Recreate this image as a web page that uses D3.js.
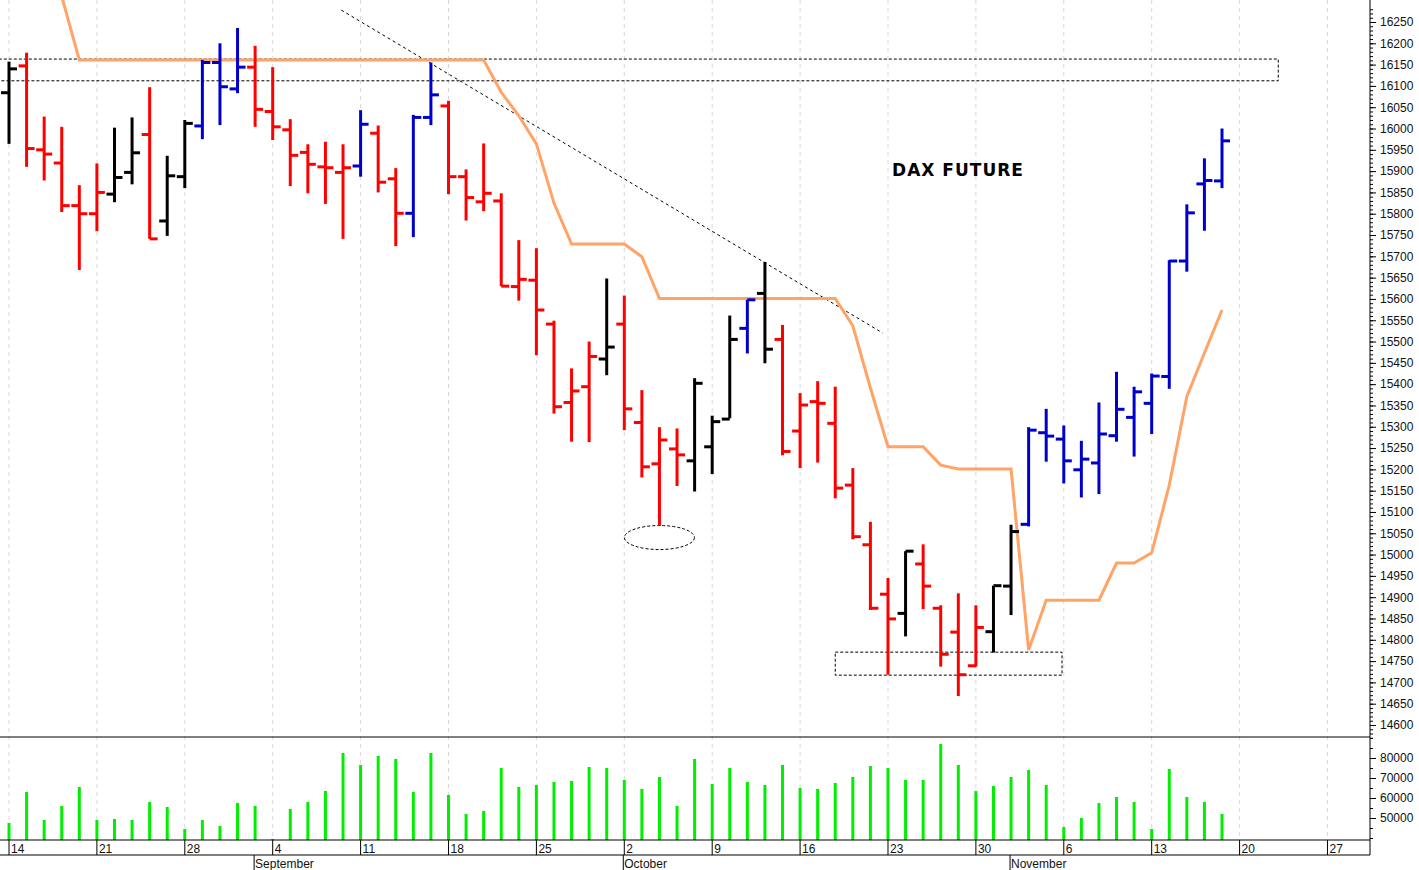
<!DOCTYPE html>
<html>
<head>
<meta charset="utf-8">
<script src="https://cdn.jsdelivr.net/npm/d3@7"></script>
<style>
  body { margin: 0; background: #fff; }
  svg { display: block; font-family: "Liberation Sans", Arial, sans-serif; }
</style>
</head>
<body>
<svg id="chart" width="1419" height="870"></svg>
<script>
// daily OHLC, Aug 14 - Nov 17 (trading day index 0..69)
const opens  = [16084,16147,15950,15919,15819,15800,15846,15897,15986,15783,15887,16006,16155,16093,16144,16040,15997,15944,15910,15897,
                15912,15989,15882,15801,16026,16053,15887,15828,15830,15629,15644,15541,15357,15394,15459,15541,15310,15213,15248,15220,
                15253,15318,15531,15613,15505,15290,15359,15308,15163,15023,14907,14862,14978,14874,14818,14739,14819,14926,15071,15286,
                15271,15199,15215,15279,15322,15355,15418,15689,15870,15877];
const highs  = [16157,16178,16028,16004,15867,15918,16002,16026,16097,15936,16020,16161,16200,16236,16194,16144,16022,15963,15969,15963,
                16043,16007,15907,16032,16155,16065,15904,15965,15848,15738,15719,15549,15437,15500,15648,15608,15386,15299,15296,15414,
                15326,15561,15598,15687,15539,15379,15407,15394,15203,15077,14945,15008,15024,14881,14909,14881,14927,15070,15299,15342,
                15303,15267,15357,15429,15394,15425,15691,15822,15930,16000];
const lows   = [15964,15910,15878,15804,15668,15759,15827,15869,15741,15748,15860,15975,16008,16083,16004,15973,15865,15848,15823,15741,
                15887,15850,15724,15745,16008,15846,15784,15806,15630,15596,15468,15331,15265,15264,15421,15292,15181,15067,15161,15148,
                15189,15320,15472,15449,15233,15203,15216,15132,15036,14870,14718,14808,14872,14737,14668,14737,14770,14858,15066,15218,
                15167,15134,15142,15265,15230,15283,15389,15664,15760,15860];
const closes = [16140,15953,15940,15819,15800,15850,15885,15943,15741,15889,16012,16155,16098,16144,16045,16004,15937,15916,15908,15908,
                16010,15874,15801,16026,16079,15887,15838,15848,15630,15646,15574,15347,15384,15465,15487,15342,15206,15269,15234,15402,
                15312,15505,15598,15482,15242,15351,15355,15156,15042,14874,14849,15008,14926,14766,14718,14829,14927,15054,15292,15278,
                15220,15224,15283,15341,15382,15419,15689,15802,15878,15971];
const barColors = "krrrrrkkrkkbbbrrrrrrbrrbbrrrrrrrrrkrrrrkkkbkrrrrrrrkrrrrkkbbbbbbbbbbbb".split("");
const volumes = [47500,63000,49000,56000,65500,49000,49500,49000,58000,55500,44500,49000,46000,57500,56000,39500,54500,58000,63500,82500,
                 76500,81000,79500,63000,82500,61500,52000,53500,75000,65500,66500,68000,68500,75500,75000,69000,64500,70500,56000,79500,
                 67000,75000,68000,66500,76500,65000,64500,67500,70500,76000,75000,69000,69000,87000,76500,63500,66000,70500,74000,66500,
                 45500,50000,57500,60500,58000,44500,74500,60500,58000,52000];
// stepped orange line (index, value)
const lineIdx = [3,4,27,28,29,30,31,32,35,36,37,47,48,49,50,52,53,54,57,58,59,62,63,64,65,66,67,68,69];
const lineVal = [16310,16161,16161,16085,16030,15964,15825,15729,15729,15699,15601,15601,15537,15391,15253,15253,15210,15201,15201,14776,14893,14893,14980,14980,15004,15163,15371,15473,15574];
// week ticks
const weekIdx = [0,5,10,15,20,25,30,35,40,45,50,55,60,65,70,75];
const weekLabels = ["14","21","28","4","11","18","25","2","9","16","23","30","6","13","20","27"];
const monthIdx = [14,35,57];
const monthLabels = ["September","October","November"];
const priceTicks = d3.range(14600, 16251, 50);
const volTicks = [50000,60000,70000,80000];

const svg = d3.select("#chart");
const W = 1370;
const x = d3.scaleLinear().domain([0, 69]).range([9, 1222]);
const y = d3.scaleLinear().domain([14600, 16250]).range([725, 22]);
const yv = d3.scaleLinear().domain([50000, 80000]).range([818, 758]);
const priceTop = 0, priceBot = 737, volBot = 840;

svg.append("defs").append("clipPath").attr("id", "pc")
  .append("rect").attr("x", 0).attr("y", 0).attr("width", W).attr("height", priceBot);

// grid
svg.selectAll(".grid").data(weekIdx).enter().append("line")
  .attr("x1", d => x(d)).attr("x2", d => x(d)).attr("y1", 0).attr("y2", volBot)
  .attr("stroke", "#d8d8d8").attr("stroke-dasharray", "4,4");

// resistance / support boxes
const boxes = [[-2, 72.2, 16163, 16112], [47.0, 59.9, 14771, 14717]];
svg.selectAll(".box").data(boxes).enter().append("rect")
  .attr("x", d => x(d[0])).attr("width", d => x(d[1]) - x(d[0]))
  .attr("y", d => y(d[2])).attr("height", d => y(d[3]) - y(d[2]))
  .attr("fill", "none").attr("stroke", "#000").attr("stroke-dasharray", "3,2");

// trend line
svg.append("line").attr("x1", x(18.9)).attr("y1", y(16278)).attr("x2", x(49.7)).attr("y2", y(15520))
  .attr("stroke", "#000").attr("stroke-dasharray", "3,3");

// ellipse near the low
svg.append("ellipse").attr("cx", x(37)).attr("cy", y(15040)).attr("rx", 35).attr("ry", 12)
  .attr("fill", "none").attr("stroke", "#000").attr("stroke-dasharray", "3,2");

// orange line
const pts = lineIdx.map((d, i) => [d, lineVal[i]]);
svg.append("path").datum(pts).attr("clip-path", "url(#pc)")
  .attr("d", d3.line().x(d => x(d[0])).y(d => y(d[1])))
  .attr("fill", "none").attr("stroke", "#ffa466").attr("stroke-width", 3);

// OHLC bars
const col = { r: "#ff0000", b: "#0000cc", k: "#000000" };
const g = svg.append("g");
opens.forEach((o, i) => {
  const c = col[barColors[i]];
  const cx = x(i);
  g.append("line").attr("x1", cx).attr("x2", cx).attr("y1", y(highs[i])).attr("y2", y(lows[i]))
    .attr("stroke", c).attr("stroke-width", 3);
  g.append("line").attr("x1", cx - 8).attr("x2", cx).attr("y1", y(o)).attr("y2", y(o))
    .attr("stroke", c).attr("stroke-width", 3);
  g.append("line").attr("x1", cx).attr("x2", cx + 8).attr("y1", y(closes[i])).attr("y2", y(closes[i]))
    .attr("stroke", c).attr("stroke-width", 3);
});

// title
svg.append("text").attr("x", 958).attr("y", 176).attr("text-anchor", "middle")
  .attr("font-family", "DejaVu Sans").attr("font-weight", "bold").attr("font-size", 17)
  .attr("letter-spacing", 1).text("DAX FUTURE");

// volume bars
svg.selectAll(".vol").data(volumes).enter().append("line")
  .attr("x1", (d, i) => x(i)).attr("x2", (d, i) => x(i))
  .attr("y1", volBot).attr("y2", d => yv(d))
  .attr("stroke", "#00ee00").attr("stroke-width", 3);

// panel separators
svg.append("line").attr("x1", 0).attr("x2", W).attr("y1", priceBot).attr("y2", priceBot).attr("stroke", "#000");
svg.append("line").attr("x1", 0).attr("x2", W).attr("y1", volBot).attr("y2", volBot).attr("stroke", "#000");
svg.append("line").attr("x1", 0).attr("x2", W).attr("y1", 855).attr("y2", 855).attr("stroke", "#000");

// right axes
const priceAxis = d3.axisRight(y).tickValues(priceTicks).tickSize(6).tickFormat(d3.format("d"));
const pa = svg.append("g").attr("transform", `translate(${W},0)`).call(priceAxis);
svg.append("g").attr("transform", `translate(${W},0)`)
  .call(d3.axisRight(y).tickValues(d3.range(14570, 16290, 10)).tickSize(3).tickFormat(""))
  .select(".domain").remove();
const va = svg.append("g").attr("transform", `translate(${W},0)`)
  .call(d3.axisRight(yv).tickValues(volTicks).tickSize(6).tickFormat(d3.format("d")));
svg.append("g").attr("transform", `translate(${W},0)`)
  .call(d3.axisRight(yv).tickValues(d3.range(40000, 90001, 5000)).tickSize(3).tickFormat(""))
  .select(".domain").remove();
[pa, va].forEach(a => {
  a.select(".domain").remove();
  a.selectAll("text").attr("font-size", 12).attr("font-family", "Liberation Sans").attr("fill", "#111").attr("x", 10);
});
svg.append("line").attr("x1", W).attr("x2", W).attr("y1", 0).attr("y2", volBot + 15).attr("stroke", "#000");

// date axis
svg.selectAll(".wt").data(weekIdx).enter().append("line")
  .attr("x1", d => x(d)).attr("x2", d => x(d)).attr("y1", volBot).attr("y2", 855).attr("stroke", "#000");
svg.selectAll(".wl").data(weekIdx).enter().append("text")
  .attr("x", d => x(d) + 2).attr("y", 853).attr("font-size", 12).attr("fill", "#111")
  .text((d, i) => weekLabels[i]);
svg.selectAll(".mt").data(monthIdx).enter().append("line")
  .attr("x1", d => x(d) - 1).attr("x2", d => x(d) - 1).attr("y1", 855).attr("y2", 870).attr("stroke", "#000");
svg.selectAll(".ml").data(monthIdx).enter().append("text")
  .attr("x", d => x(d)).attr("y", 868).attr("font-size", 12).attr("fill", "#111")
  .text((d, i) => monthLabels[i]);
</script>
</body>
</html>
